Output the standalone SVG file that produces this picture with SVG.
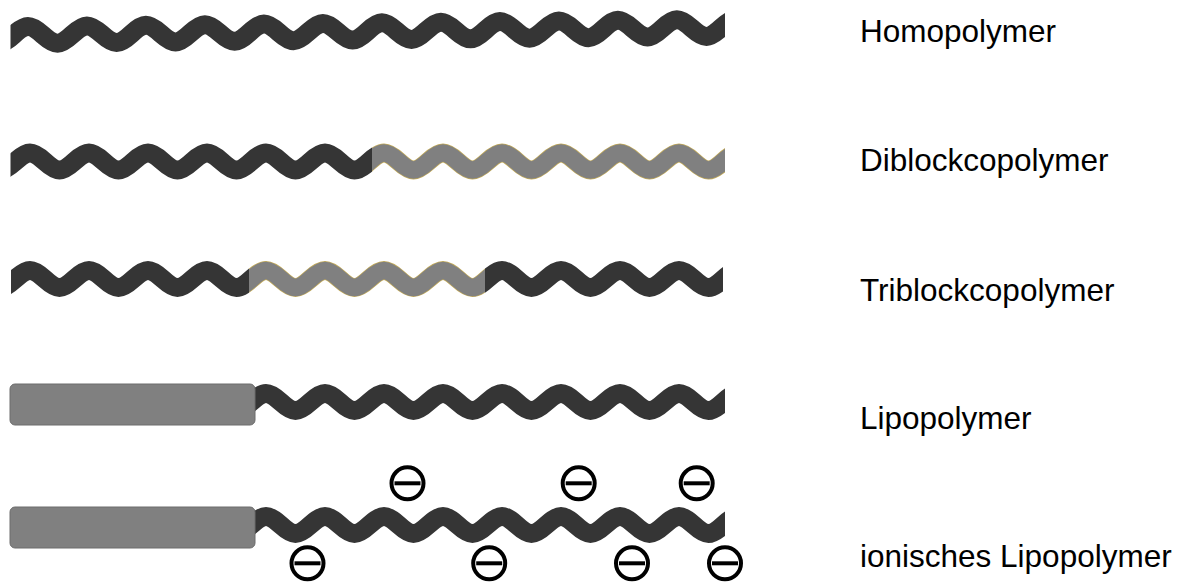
<svg xmlns="http://www.w3.org/2000/svg" xmlns:xlink="http://www.w3.org/1999/xlink" width="1185" height="586" viewBox="0 0 1185 586">
<style>
.dark{fill:none;stroke:#353535;stroke-width:19}
.grayo{fill:none;stroke:#c2aa5a;stroke-width:19}
.gray{fill:none;stroke:#808080;stroke-width:17.6}
.lipid{fill:#808080;stroke:#6c6c6c;stroke-width:1}
.ring{fill:#fff;stroke:#000;stroke-width:4}
.bar{stroke:#000;stroke-width:4}
.lbl{font-family:"Liberation Sans",Arial,sans-serif;font-size:31.5px;fill:#000}
</style>
<defs>
<path id="wave" d="M-73.75,0c12.52,-11.33 16.98,-11.33 29.5,0s16.98,11.33 29.5,0s16.98,-11.33 29.5,0s16.98,11.33 29.5,0s16.98,-11.33 29.5,0s16.98,11.33 29.5,0s16.98,-11.33 29.5,0s16.98,11.33 29.5,0s16.98,-11.33 29.5,0s16.98,11.33 29.5,0s16.98,-11.33 29.5,0s16.98,11.33 29.5,0s16.98,-11.33 29.5,0s16.98,11.33 29.5,0s16.98,-11.33 29.5,0s16.98,11.33 29.5,0s16.98,-11.33 29.5,0s16.98,11.33 29.5,0s16.98,-11.33 29.5,0s16.98,11.33 29.5,0s16.98,-11.33 29.5,0s16.98,11.33 29.5,0s16.98,-11.33 29.5,0s16.98,11.33 29.5,0s16.98,-11.33 29.5,0s16.98,11.33 29.5,0s16.98,-11.33 29.5,0s16.98,11.33 29.5,0"/>
<clipPath id="cFull" clipPathUnits="userSpaceOnUse"><rect x="10.5" y="0" width="714.5" height="586"/></clipPath>
<clipPath id="c2a" clipPathUnits="userSpaceOnUse"><rect x="10.5" y="0" width="361.5" height="586"/></clipPath>
<clipPath id="c2b" clipPathUnits="userSpaceOnUse"><rect x="372" y="0" width="353" height="586"/></clipPath>
<clipPath id="c3a" clipPathUnits="userSpaceOnUse"><rect x="11" y="0" width="238" height="586"/></clipPath>
<clipPath id="c3b" clipPathUnits="userSpaceOnUse"><rect x="249" y="0" width="236" height="586"/></clipPath>
<clipPath id="c3c" clipPathUnits="userSpaceOnUse"><rect x="485" y="0" width="238" height="586"/></clipPath>
<clipPath id="cLip" clipPathUnits="userSpaceOnUse"><rect x="250" y="0" width="475" height="586"/></clipPath>
<g id="minus"><circle class="ring" cx="0" cy="0" r="16"/><line class="bar" x1="-13" y1="0" x2="13" y2="0"/></g>
</defs>

<g id="homopolymer">
<g clip-path="url(#cFull)"><use xlink:href="#wave" class="dark" transform="translate(28,35) rotate(-0.6)"/></g>
<text class="lbl" x="860" y="42">Homopolymer</text>
</g>

<g id="diblockcopolymer">
<g clip-path="url(#c2a)"><use xlink:href="#wave" class="dark" transform="translate(30,161.5)"/></g>
<g clip-path="url(#c2b)"><use xlink:href="#wave" class="grayo" transform="translate(30,161.5)"/><use xlink:href="#wave" class="gray" transform="translate(30,161.5)"/></g>
<text class="lbl" x="860" y="171">Diblockcopolymer</text>
</g>

<g id="triblockcopolymer">
<g clip-path="url(#c3a)"><use xlink:href="#wave" class="dark" transform="translate(30,279)"/></g>
<g clip-path="url(#c3b)"><use xlink:href="#wave" class="grayo" transform="translate(30,279)"/><use xlink:href="#wave" class="gray" transform="translate(30,279)"/></g>
<g clip-path="url(#c3c)"><use xlink:href="#wave" class="dark" transform="translate(30,279)"/></g>
<text class="lbl" x="860" y="301">Triblockcopolymer</text>
</g>

<g id="lipopolymer">
<g clip-path="url(#cLip)"><use xlink:href="#wave" class="dark" transform="translate(30,402)"/></g>
<rect class="lipid" x="10" y="384" width="245" height="41" rx="5"/>
<text class="lbl" x="860" y="429">Lipopolymer</text>
</g>

<g id="ionisches-lipopolymer">
<g clip-path="url(#cLip)"><use xlink:href="#wave" class="dark" transform="translate(30,525)"/></g>
<rect class="lipid" x="10" y="507" width="245" height="41" rx="5"/>
<use xlink:href="#minus" transform="translate(407.5,483.3)"/>
<use xlink:href="#minus" transform="translate(578.7,483.3)"/>
<use xlink:href="#minus" transform="translate(696.7,483.3)"/>
<use xlink:href="#minus" transform="translate(307.5,563.3)"/>
<use xlink:href="#minus" transform="translate(489.2,563.3)"/>
<use xlink:href="#minus" transform="translate(632,563.3)"/>
<use xlink:href="#minus" transform="translate(725,563.3)"/>
<text class="lbl" x="860" y="567">ionisches Lipopolymer</text>
</g>

<g id="connectors"></g>
</svg>
